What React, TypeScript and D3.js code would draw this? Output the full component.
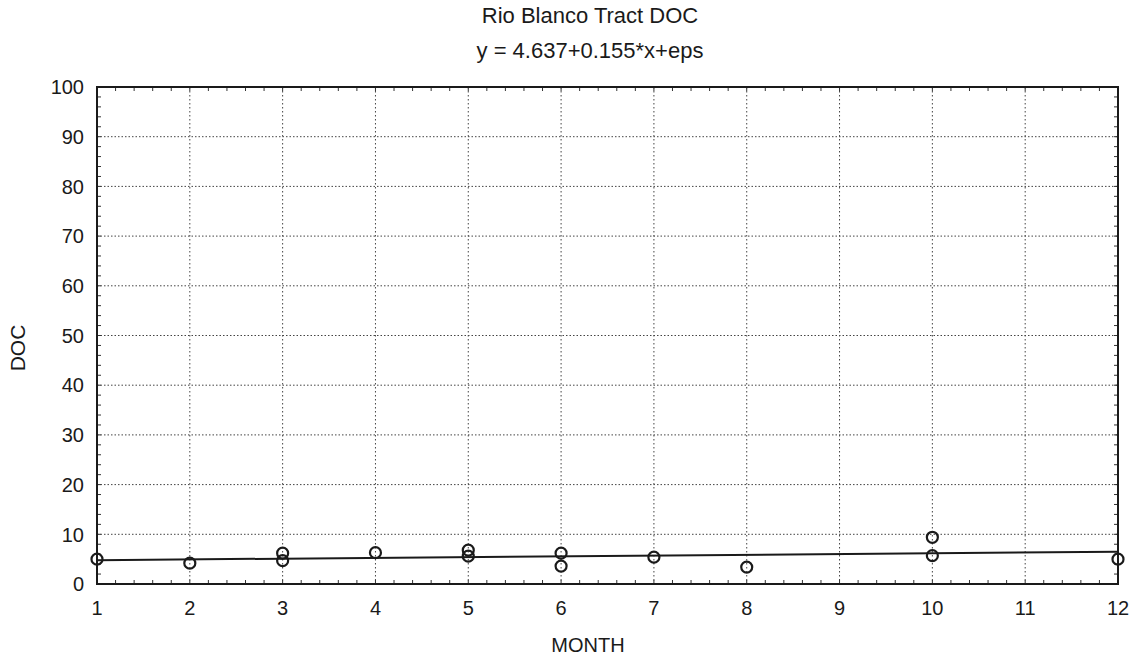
import * as d3 from 'd3'
import React, { useEffect, useRef } from 'react'

const width = 1137
const height = 661

const months = [1, 2, 3, 3, 4, 5, 5, 6, 6, 7, 8, 10, 10, 12]
const docValues = [5.0, 4.2, 6.2, 4.7, 6.3, 6.8, 5.6, 6.2, 3.6, 5.4, 3.4, 9.4, 5.7, 5.0]

// fitted line from the title
const intercept = 4.637
const slope = 0.155

const xTicks = [1, 2, 3, 4, 5, 6, 7, 8, 9, 10, 11, 12]
const yTicks = [0, 10, 20, 30, 40, 50, 60, 70, 80, 90, 100]

const App: React.FC = () => {
  const ref = useRef<SVGSVGElement>(null)

  useEffect(() => {
    const margin = { top: 87, right: 19, bottom: 77, left: 97 }
    const w = width - margin.left - margin.right
    const h = height - margin.top - margin.bottom
    const font = '"Liberation Sans", Arial, sans-serif'
    const ink = '#1a1a1a'
    const titleX = 590

    const svg = d3.select(ref.current)
    svg.selectAll('*').remove()

    const x = d3.scaleLinear().domain([1, 12]).range([0, w])
    const y = d3.scaleLinear().domain([0, 100]).range([h, 0])

    // titles
    svg
      .append('text')
      .attr('x', titleX)
      .attr('y', 23)
      .attr('text-anchor', 'middle')
      .attr('font-family', font)
      .attr('font-size', 22)
      .attr('fill', ink)
      .text('Rio Blanco Tract DOC')

    svg
      .append('text')
      .attr('x', titleX)
      .attr('y', 58)
      .attr('text-anchor', 'middle')
      .attr('font-family', font)
      .attr('font-size', 22)
      .attr('fill', ink)
      .text('y = 4.637+0.155*x+eps')

    const g = svg.append('g').attr('transform', 'translate(' + margin.left + ',' + margin.top + ')')

    // grid
    g.selectAll('.hgrid')
      .data(yTicks.filter((d) => d > 0 && d < 100))
      .enter()
      .append('line')
      .attr('x1', 0)
      .attr('x2', w)
      .attr('y1', (d) => y(d))
      .attr('y2', (d) => y(d))
      .attr('stroke', '#444')
      .attr('stroke-width', 1)
      .attr('stroke-dasharray', '1.5,2')

    g.selectAll('.vgrid')
      .data(xTicks.filter((d) => d > 1 && d < 12))
      .enter()
      .append('line')
      .attr('x1', (d) => x(d))
      .attr('x2', (d) => x(d))
      .attr('y1', 0)
      .attr('y2', h)
      .attr('stroke', '#444')
      .attr('stroke-width', 1)
      .attr('stroke-dasharray', '1.5,2.5')

    // minor ticks inside the frame
    const yMinor = d3.range(0, 100, 2)
    g.selectAll('.yminor')
      .data(yMinor)
      .enter()
      .append('line')
      .attr('x1', 0)
      .attr('x2', 4)
      .attr('y1', (d) => y(d))
      .attr('y2', (d) => y(d))
      .attr('stroke', '#333')
    g.selectAll('.yminor2')
      .data(yMinor)
      .enter()
      .append('line')
      .attr('x1', w)
      .attr('x2', w - 4)
      .attr('y1', (d) => y(d))
      .attr('y2', (d) => y(d))
      .attr('stroke', '#333')

    const xMinor = d3.range(1, 12, 0.2)
    g.selectAll('.xminor')
      .data(xMinor)
      .enter()
      .append('line')
      .attr('x1', (d) => x(d))
      .attr('x2', (d) => x(d))
      .attr('y1', h)
      .attr('y2', h - 4)
      .attr('stroke', '#333')
    g.selectAll('.xminor2')
      .data(xMinor)
      .enter()
      .append('line')
      .attr('x1', (d) => x(d))
      .attr('x2', (d) => x(d))
      .attr('y1', 0)
      .attr('y2', 4)
      .attr('stroke', '#333')

    // frame
    g.append('rect')
      .attr('width', w)
      .attr('height', h)
      .attr('fill', 'none')
      .attr('stroke', ink)
      .attr('stroke-width', 2)

    // axes labels
    g.selectAll('.ylab')
      .data(yTicks)
      .enter()
      .append('text')
      .attr('x', -13)
      .attr('y', (d) => y(d))
      .attr('dy', '0.36em')
      .attr('text-anchor', 'end')
      .attr('font-family', font)
      .attr('font-size', 20)
      .attr('fill', ink)
      .text((d) => d)

    g.selectAll('.xlab')
      .data(xTicks)
      .enter()
      .append('text')
      .attr('x', (d) => x(d))
      .attr('y', h + 31)
      .attr('text-anchor', 'middle')
      .attr('font-family', font)
      .attr('font-size', 20)
      .attr('fill', ink)
      .text((d) => d)

    svg
      .append('text')
      .attr('x', 588)
      .attr('y', 652)
      .attr('text-anchor', 'middle')
      .attr('font-family', font)
      .attr('font-size', 20)
      .attr('fill', ink)
      .text('MONTH')

    svg
      .append('text')
      .attr('transform', 'translate(25,348) rotate(-90)')
      .attr('text-anchor', 'middle')
      .attr('font-family', font)
      .attr('font-size', 21)
      .attr('fill', ink)
      .text('DOC')

    // regression line
    const line = d3
      .line<number>()
      .x((d) => x(d))
      .y((d) => y(intercept + slope * d))
    g.append('path')
      .datum([1, 12])
      .attr('d', line)
      .attr('fill', 'none')
      .attr('stroke', ink)
      .attr('stroke-width', 2)

    // points
    g.selectAll('.pt')
      .data(months.map((m, i) => ({ m, v: docValues[i] })))
      .enter()
      .append('circle')
      .attr('cx', (d) => x(d.m))
      .attr('cy', (d) => y(d.v))
      .attr('r', 5.5)
      .attr('fill', 'none')
      .attr('stroke', ink)
      .attr('stroke-width', 2.2)
  }, [])

  return (
    <div style={{ position: 'absolute', left: 0, top: 0 }}>
      <svg ref={ref} width={width} height={height} style={{ display: 'block', background: '#fff' }} />
    </div>
  )
}

export default App
